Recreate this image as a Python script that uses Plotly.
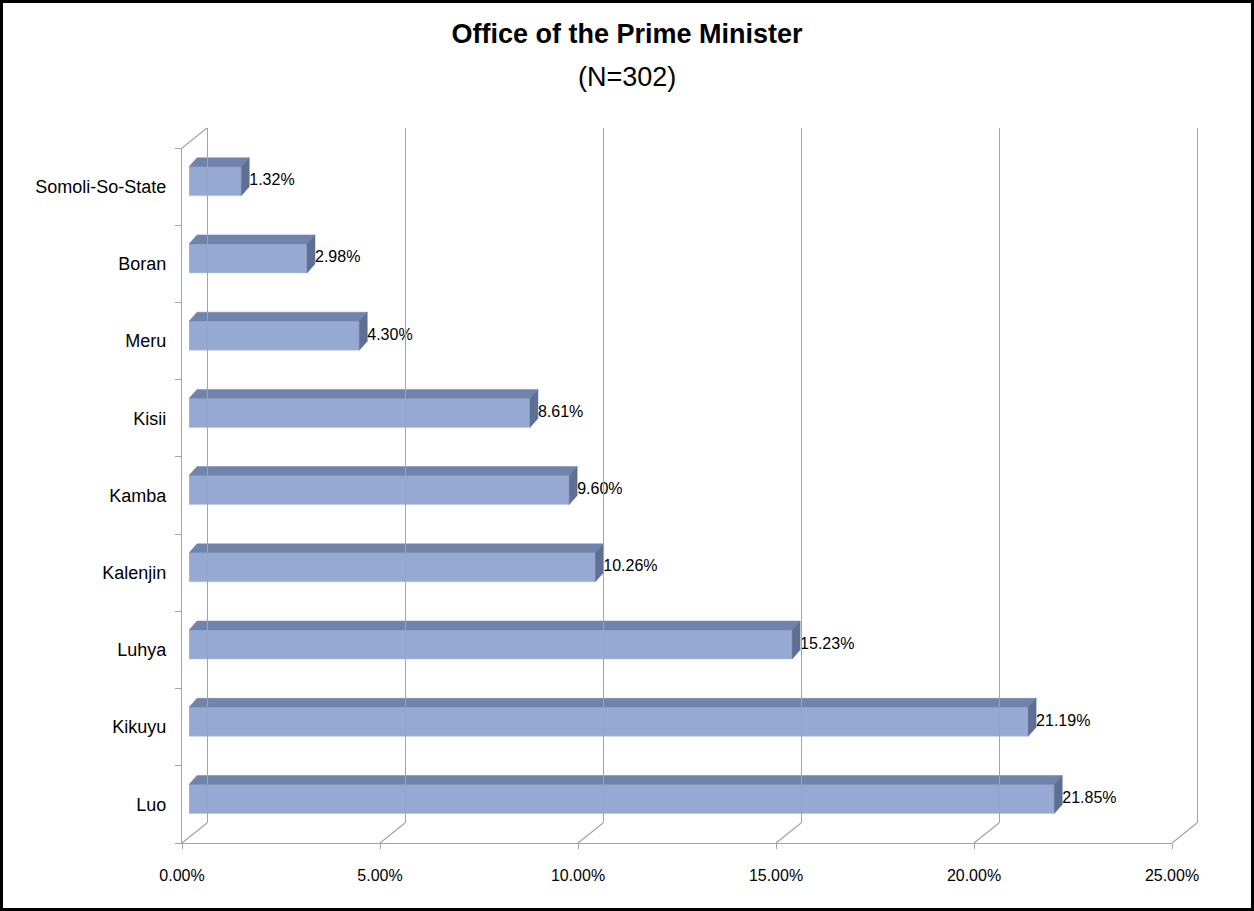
import plotly.graph_objects as go

# ---------------- data ----------------
categories = ["Luo", "Kikuyu", "Luhya", "Kalenjin", "Kamba", "Kisii", "Meru", "Boran", "Somoli-So-State"]
values = [21.85, 21.19, 15.23, 10.26, 9.60, 8.61, 4.30, 2.98, 1.32]
labels = ["21.85%", "21.19%", "15.23%", "10.26%", "9.60%", "8.61%", "4.30%", "2.98%", "1.32%"]
tick_vals = [0, 5, 10, 15, 20, 25]
tick_text = ["0.00%", "5.00%", "10.00%", "15.00%", "20.00%", "25.00%"]
title_main = "<b>Office of the Prime Minister</b>"
title_sub = "(N=302)"

W, H = 1254, 911
FONT = "Liberation Sans, Arial, sans-serif"

def fx(p):
    return p / W

def fy(p):
    return 1 - p / H

# geometry (pixels)
X0_BAR, X1_BAR = 189, 1179      # bar axis 0..25
X0_FR, X1_FR = 182, 1172        # front plane
X0_BK, X1_BK = 207, 1197        # back wall
Y_FR_TOP, Y_FR_BOT = 148, 843
Y_BK_TOP, Y_BK_BOT = 128, 823
Y_BAR_TOP, Y_BAR_BOT = 142.6, 837.6

px_per_unit_x = (X1_BAR - X0_BAR) / 25.0
px_per_unit_y = (Y_BAR_BOT - Y_BAR_TOP) / 9.0
bw = 29 / px_per_unit_y          # bar front face height
dx = 8 / px_per_unit_x           # depth offset
dy = 9 / px_per_unit_y
pad_bk = 0.5 * (X1_BK - X0_BK) / 25.0

FRONT = "#95A9D2"
TOP = "#7083AA"
SIDE = "#5E6F94"
GRID = "#A3A3A3"

fig = go.Figure()

# front faces
fig.add_trace(go.Bar(
    x=values, y=list(range(len(categories))), orientation="h", width=bw,
    marker=dict(color=FRONT, line=dict(color="#B8C6E2", width=0.6)),
    xaxis="x", yaxis="y", hoverinfo="skip", showlegend=False,
))

# top and side faces
for i, v in enumerate(values):
    yt = i + bw / 2
    yb = i - bw / 2
    fig.add_trace(go.Scatter(
        x=[0, v, v + dx, dx, 0], y=[yt, yt, yt + dy, yt + dy, yt],
        fill="toself", fillcolor=TOP, mode="lines", line=dict(color=TOP, width=0.5),
        xaxis="x", yaxis="y", hoverinfo="skip", showlegend=False,
    ))
    fig.add_trace(go.Scatter(
        x=[v, v + dx, v + dx, v, v], y=[yb, yb + dy, yt + dy, yt, yb],
        fill="toself", fillcolor=SIDE, mode="lines", line=dict(color=SIDE, width=0.5),
        xaxis="x", yaxis="y", hoverinfo="skip", showlegend=False,
    ))

# data labels
fig.add_trace(go.Scatter(
    x=[v + dx for v in values], y=list(range(len(categories))),
    mode="text", text=labels, textposition="middle right",
    textfont=dict(family=FONT, size=16, color="#000000"),
    xaxis="x", yaxis="y", hoverinfo="skip", showlegend=False, cliponaxis=False,
))

# dummy traces to activate the other axes
fig.add_trace(go.Scatter(x=[0], y=[0], mode="markers", marker=dict(opacity=0),
                         xaxis="x2", yaxis="y2", hoverinfo="skip", showlegend=False))
fig.add_trace(go.Scatter(x=[0], y=[categories[0]], mode="markers", marker=dict(opacity=0),
                         xaxis="x3", yaxis="y3", hoverinfo="skip", showlegend=False))

shapes = [
    dict(type="rect", xref="paper", yref="paper", x0=0.0012, y0=0.0016, x1=0.9988, y1=0.9984,
         line=dict(color="black", width=3), fillcolor="rgba(0,0,0,0)", layer="above"),
]
# floor diagonals at each tick, plus top-left wall diagonal
for t in tick_vals:
    xf = X0_FR + (X1_FR - X0_FR) * t / 25.0
    xb = X0_BK + (X1_BK - X0_BK) * t / 25.0
    shapes.append(dict(type="line", xref="paper", yref="paper",
                       x0=fx(xf), y0=fy(Y_FR_BOT), x1=fx(xb), y1=fy(Y_BK_BOT),
                       line=dict(color=GRID, width=1.2), layer="below"))
shapes.append(dict(type="line", xref="paper", yref="paper",
                   x0=fx(X0_FR), y0=fy(Y_FR_TOP), x1=fx(X0_BK), y1=fy(Y_BK_TOP),
                   line=dict(color=GRID, width=1.2), layer="below"))

annotations = [
    dict(text=title_sub, xref="paper", yref="paper", x=0.5, y=fy(77), xanchor="center",
         yanchor="middle", showarrow=False, font=dict(family=FONT, size=27, color="black")),
]

fig.update_layout(
    width=W, height=H,
    margin=dict(l=0, r=0, t=0, b=0, autoexpand=False),
    paper_bgcolor="white", plot_bgcolor="rgba(0,0,0,0)",
    font=dict(family=FONT, color="black"),
    title=dict(text=title_main, x=0.5, xanchor="center", y=fy(34), yanchor="middle",
               font=dict(family=FONT, size=27, color="black")),
    shapes=shapes,
    annotations=annotations,
    xaxis=dict(domain=[fx(X0_BAR), fx(X1_BAR)], range=[0, 25], anchor="y", automargin=False,
               showgrid=False, zeroline=False, showticklabels=False, showline=False, ticks=""),
    yaxis=dict(domain=[fy(Y_BAR_BOT), fy(Y_BAR_TOP)], range=[-0.5, 8.5], anchor="x", automargin=False,
               showgrid=False, zeroline=False, showticklabels=False, showline=False, ticks=""),
    xaxis2=dict(domain=[fx(X0_BK - pad_bk), fx(X1_BK + pad_bk)], range=[-0.5, 25.5], anchor="y2",
                automargin=False,
                tickvals=tick_vals, showgrid=True, gridcolor=GRID, gridwidth=1.2,
                zeroline=False, showticklabels=False, showline=False, ticks=""),
    yaxis2=dict(domain=[fy(Y_BK_BOT), fy(Y_BK_TOP)], range=[0, 1], anchor="x2", automargin=False,
                showgrid=False, zeroline=False, showticklabels=False, showline=False, ticks=""),
    xaxis3=dict(domain=[fx(X0_FR), fx(X1_FR)], range=[0, 25], anchor="y3", automargin=False,
                tickvals=tick_vals, ticktext=tick_text, showgrid=False, zeroline=False,
                showline=True, linecolor=GRID, linewidth=1.2,
                ticks="outside", ticklen=5, tickcolor=GRID, tickwidth=1.2, ticklabelstandoff=13,
                tickfont=dict(family=FONT, size=16, color="black")),
    yaxis3=dict(domain=[fy(Y_FR_BOT), fy(Y_FR_TOP)], type="category", automargin=False,
                categoryorder="array", categoryarray=categories, range=[-0.5, 8.5],
                anchor="x3", showgrid=False, zeroline=False,
                showline=True, linecolor=GRID, linewidth=1.2,
                ticks="outside", ticklen=6, tickcolor=GRID, tickwidth=1.2,
                tickson="boundaries", ticklabelstandoff=11,
                tickfont=dict(family=FONT, size=18, color="black")),
)

fig.write_html("out.html", config={"displayModeBar": False},
               post_script="document.body.style.margin='0';document.body.style.overflow='hidden';")
